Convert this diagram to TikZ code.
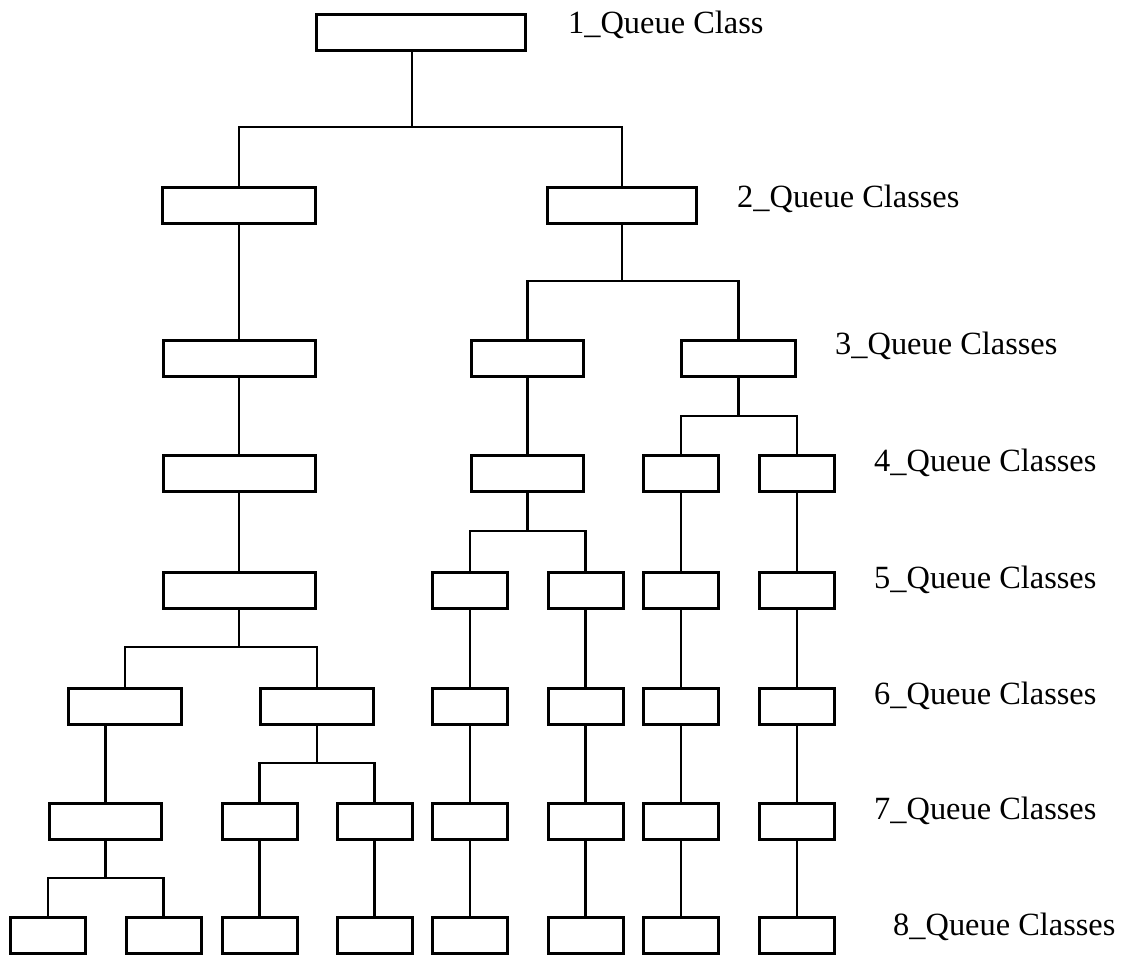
\documentclass[tikz,border=0pt]{standalone}
\usepackage{fontspec}
\setmainfont{Liberation Serif}
\begin{document}
\begin{tikzpicture}[x=1pt,y=-1pt,
  qbox/.style={draw, line width=3pt, inner sep=0pt, minimum height=36pt, minimum width=#1},
  qbox/.default=75pt,
  link/.style={line width=2.2pt},
  lbl/.style={anchor=base west, inner sep=0pt, font=\fontsize{32.4}{38}\selectfont}]
\useasboundingbox (0,0) rectangle (1130,959);

% level 1
\node[qbox=209pt] (n1) at (421,32.5) {};
% level 2
\node[qbox=153pt] (n2a) at (239,205.5) {};
\node[qbox=149pt] (n2b) at (622,205.5) {};
% level 3
\node[qbox=152pt] (n3a) at (239,358) {};
\node[qbox=112pt] (n3b) at (527.5,358) {};
\node[qbox=114pt] (n3c) at (738.5,358) {};
% level 4
\node[qbox=152pt] (n4a) at (239,473.5) {};
\node[qbox=112pt] (n4b) at (527.5,473.5) {};
\node[qbox] (n4c) at (681,473.5) {};
\node[qbox] (n4d) at (797,473.5) {};
% level 5
\node[qbox=152pt] (n5a) at (239,590.5) {};
\node[qbox] (n5b) at (470,590.5) {};
\node[qbox] (n5c) at (585.5,590.5) {};
\node[qbox] (n5d) at (681,590.5) {};
\node[qbox] (n5e) at (797,590.5) {};
% level 6
\node[qbox=113pt] (n6a) at (125,706.5) {};
\node[qbox=113pt] (n6b) at (317,706.5) {};
\node[qbox] (n6c) at (470,706.5) {};
\node[qbox] (n6d) at (585.5,706.5) {};
\node[qbox] (n6e) at (681,706.5) {};
\node[qbox] (n6f) at (797,706.5) {};
% level 7
\node[qbox=112pt] (n7a) at (105.5,821.5) {};
\node[qbox] (n7b) at (259.5,821.5) {};
\node[qbox] (n7c) at (374.5,821.5) {};
\node[qbox] (n7d) at (470,821.5) {};
\node[qbox] (n7e) at (585.5,821.5) {};
\node[qbox] (n7f) at (681,821.5) {};
\node[qbox] (n7g) at (797,821.5) {};
% level 8
\node[qbox] (n8a) at (48,935.5) {};
\node[qbox] (n8b) at (163.5,935.5) {};
\node[qbox] (n8c) at (259.5,935.5) {};
\node[qbox] (n8d) at (374.5,935.5) {};
\node[qbox] (n8e) at (470,935.5) {};
\node[qbox] (n8f) at (585.5,935.5) {};
\node[qbox] (n8g) at (681,935.5) {};
\node[qbox] (n8h) at (797,935.5) {};

% branching points
\coordinate (b1) at (412,127);
\coordinate (b2) at (622,281);
\coordinate (b3) at (738.5,416);
\coordinate (b4) at (527.5,531);
\coordinate (b5) at (239,647);
\coordinate (b6) at (317,763);
\coordinate (b7) at (105.5,878);

% splits
\draw[link] (b1 |- n1.south) -- (b1);
\draw[link] (n2a) |- (b1) -| (n2b);
\draw[link] (n2b) -- (b2);
\draw[link] (n3b) |- (b2) -| (n3c);
\draw[link] (n3c) -- (b3);
\draw[link] (n4c) |- (b3) -| (n4d);
\draw[link] (n4b) -- (b4);
\draw[link] (n5b) |- (b4) -| (n5c);
\draw[link] (n5a) -- (b5);
\draw[link] (n6a) |- (b5) -| (n6b);
\draw[link] (n6b) -- (b6);
\draw[link] (n7b) |- (b6) -| (n7c);
\draw[link] (n7a) -- (b7);
\draw[link] (n8a) |- (b7) -| (n8b);

% straight chains
\draw[link] (n2a) -- (n3a);
\draw[link] (n3a) -- (n4a);
\draw[link] (n4a) -- (n5a);
\draw[link] (n3b) -- (n4b);
\draw[link] (n7a) -- (n7a |- n6a.south);
\draw[link] (n7b) -- (n8c);
\draw[link] (n7c) -- (n8d);
\draw[link] (n5b) -- (n6c);
\draw[link] (n6c) -- (n7d);
\draw[link] (n7d) -- (n8e);
\draw[link] (n5c) -- (n6d);
\draw[link] (n6d) -- (n7e);
\draw[link] (n7e) -- (n8f);
\draw[link] (n4c) -- (n5d);
\draw[link] (n5d) -- (n6e);
\draw[link] (n6e) -- (n7f);
\draw[link] (n7f) -- (n8g);
\draw[link] (n4d) -- (n5e);
\draw[link] (n5e) -- (n6f);
\draw[link] (n6f) -- (n7g);
\draw[link] (n7g) -- (n8h);

% level labels
\node[lbl] (t1) at (568,33) {1\_Queue Class};
\node[lbl] (t2) at (737,207) {2\_Queue Classes};
\node[lbl] (t3) at (835,354) {3\_Queue Classes};
\node[lbl] (t4) at (874,471) {4\_Queue Classes};
\node[lbl] (t5) at (874,588) {5\_Queue Classes};
\node[lbl] (t6) at (874,704) {6\_Queue Classes};
\node[lbl] (t7) at (874,819) {7\_Queue Classes};
\node[lbl] (t8) at (893,935) {8\_Queue Classes};
\end{tikzpicture}
\end{document}
